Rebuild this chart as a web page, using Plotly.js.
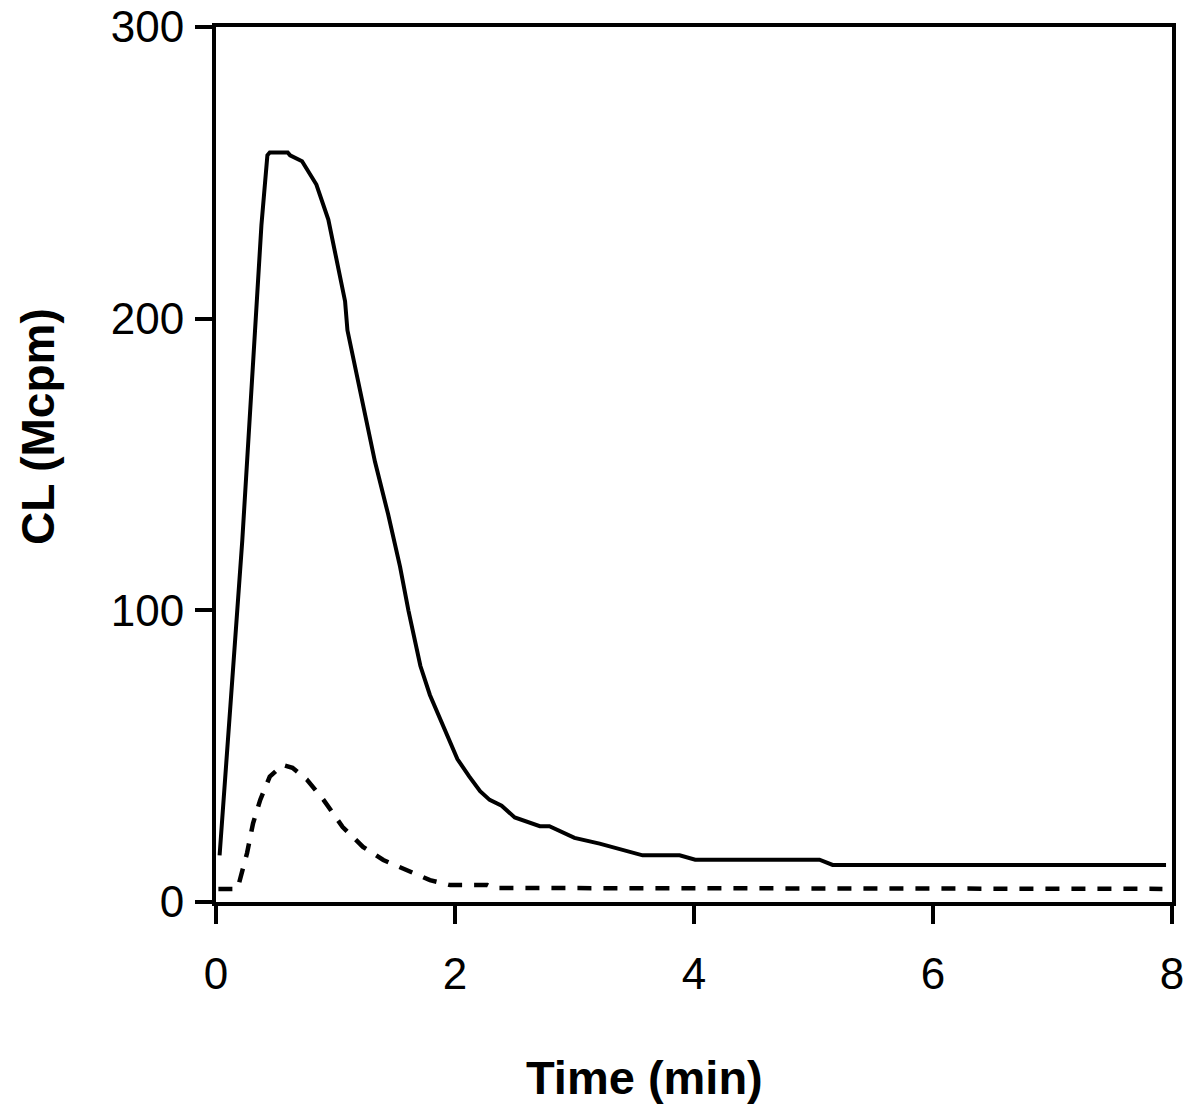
<!DOCTYPE html>
<html>
<head>
<meta charset="utf-8">
<script src="https://cdn.plot.ly/plotly-3.0.1.min.js"></script>
<style>html,body{margin:0;padding:0;background:#fff;}#chart{width:1198px;height:1120px;}</style>
</head>
<body>
<div id="chart"></div>
<script>
// Solid curve
const solidTime = [0.03, 0.08, 0.12, 0.22, 0.27, 0.32, 0.38, 0.43, 0.45, 0.60, 0.62, 0.72, 0.84, 0.94, 1.08, 1.10, 1.21, 1.33, 1.44, 1.54, 1.61, 1.71, 1.79, 1.92, 2.02, 2.12, 2.21, 2.29, 2.39, 2.50, 2.71, 2.79, 3.00, 3.21, 3.57, 3.88, 4.01, 5.05, 5.16, 7.95];
const solidCL   = [16, 43, 67, 124, 158, 196, 232, 256, 257, 257, 256, 254, 246, 234, 206, 196, 174, 151, 133, 115, 100, 81, 71, 59, 49, 43, 38, 35, 33, 29, 26, 26, 22, 20, 16, 16, 14.5, 14.5, 12.7, 12.7];
// Dashed curve
const dashTime = [0.02, 0.18, 0.26, 0.31, 0.37, 0.45, 0.56, 0.64, 0.76, 0.90, 1.06, 1.23, 1.40, 1.60, 1.79, 1.96, 2.27, 2.32, 7.92];
const dashCL   = [4.5, 4.5, 16.8, 27, 35, 43, 47, 46, 42, 35, 25.7, 18.9, 14.4, 11, 7.5, 5.8, 5.8, 4.8, 4.5];

const xTicks = [0, 2, 4, 6, 8];
const yTicks = [0, 100, 200, 300];
const xTitle = 'Time (min)';
const yTitle = 'CL (Mcpm)';

const FONT = 'Liberation Sans, Arial, sans-serif';

const traces = [
  {x: solidTime, y: solidCL, mode: 'lines', line: {color: '#000', width: 4}, hoverinfo: 'skip'},
  {x: dashTime, y: dashCL, mode: 'lines', line: {color: '#000', width: 4.5, dash: '14px,12px'}, hoverinfo: 'skip'}
];

const layout = {
  width: 1198, height: 1120,
  margin: {l: 216, r: 26, t: 27, b: 218},
  paper_bgcolor: '#fff', plot_bgcolor: '#fff',
  showlegend: false,
  font: {family: FONT, size: 44, color: '#000'},
  xaxis: {
    range: [0, 8], tickvals: xTicks, ticktext: xTicks.map(String),
    showgrid: false, zeroline: false, showline: true, mirror: true,
    linecolor: '#000', linewidth: 4, ticks: 'outside', ticklen: 18, tickwidth: 4, tickcolor: '#000',
    tickfont: {family: FONT, size: 44, color: '#000'}, ticklabelstandoff: 12
  },
  yaxis: {
    range: [0, 300], tickvals: yTicks, ticktext: yTicks.map(String),
    showgrid: false, zeroline: false, showline: true, mirror: true,
    linecolor: '#000', linewidth: 4, ticks: 'outside', ticklen: 17, tickwidth: 4, tickcolor: '#000',
    tickfont: {family: FONT, size: 44, color: '#000'}, ticklabelstandoff: 2
  },
  annotations: [
    {text: '<b>' + xTitle + '</b>', xref: 'paper', yref: 'paper', x: 0.448, y: -0.201,
     xanchor: 'center', yanchor: 'middle', showarrow: false, font: {family: FONT, size: 47, color: '#000'}},
    {text: '<b>' + yTitle + '</b>', xref: 'paper', yref: 'paper', x: -0.186, y: 0.543, textangle: -90,
     xanchor: 'center', yanchor: 'middle', showarrow: false, font: {family: FONT, size: 46, color: '#000'}}
  ]
};

Plotly.newPlot('chart', traces, layout, {staticPlot: true, displayModeBar: false});
</script>
</body>
</html>
